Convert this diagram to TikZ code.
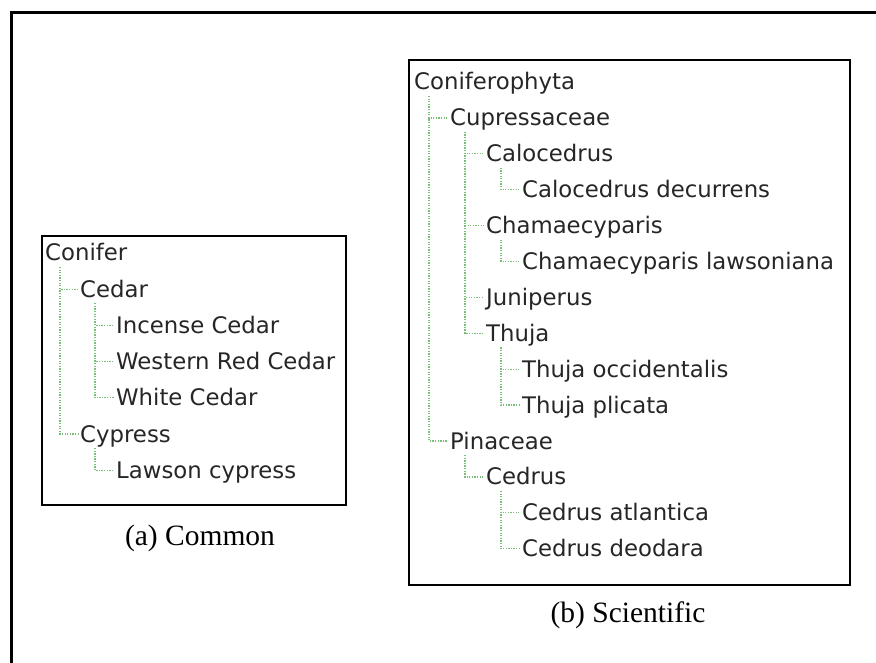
\documentclass[tikz,border=0pt]{standalone}
\usepackage{fontspec}
\setmainfont{Liberation Serif}
\newfontfamily\treefont{DejaVu Sans}
\definecolor{dotgreen}{RGB}{120,190,120}
\begin{document}
\begin{tikzpicture}[x=1pt,y=-1pt,
  item/.style={anchor=west,inner sep=0pt,text height=16pt,text depth=0pt,font=\treefont\fontsize{22.8}{26}\selectfont,text=black!85},
  frame/.style={draw=black,line width=2.2pt},
  tree/.style={draw=dotgreen,line width=1.3pt,dash pattern=on 1.3pt off 1.3pt},
  caption/.style={font=\fontsize{29.5}{34}\selectfont}]
\useasboundingbox (0,0) rectangle (876,663);
\draw[frame,line width=3pt] (11,663) -- (11,13) -- (876,13);
% common names
\draw[frame] (42,236) rectangle (346,505);
\node[item] (conifer) at (45,253) {Conifer};
\node[item] (cedar) at (80,289.2) {Cedar};
\node[item] (incense) at (116,325.4) {Incense Cedar};
\node[item] (western) at (116,361.6) {Western Red Cedar};
\node[item] (white) at (116,397.8) {White Cedar};
\node[item] (cypress) at (80,434) {Cypress};
\node[item] (lawson) at (116,470.2) {Lawson cypress};
\foreach \a/\b in {conifer/cedar,conifer/cypress,cedar/incense,cedar/western,cedar/white,cypress/lawson}
  \draw[tree] ([xshift=15pt,yshift=-14pt]\a.west) |- ([xshift=-2pt]\b.west);
\node[caption] (capa) at (200,538) {(a) Common};
% scientific names
\draw[frame] (409,60) rectangle (850,585);
\node[item] (phyta) at (414,82) {Coniferophyta};
\node[item] (cupress) at (450,117.9) {Cupressaceae};
\node[item] (caloc) at (486,153.8) {Calocedrus};
\node[item] (calocdec) at (522,189.7) {Calocedrus decurrens};
\node[item] (chamae) at (486,225.6) {Chamaecyparis};
\node[item] (chamlaw) at (522,261.5) {Chamaecyparis lawsoniana};
\node[item] (junip) at (486,297.4) {Juniperus};
\node[item] (thuja) at (486,333.3) {Thuja};
\node[item] (thujaocc) at (522,369.2) {Thuja occidentalis};
\node[item] (thujapli) at (522,405.1) {Thuja plicata};
\node[item] (pinac) at (450,441) {Pinaceae};
\node[item] (cedrus) at (486,476.9) {Cedrus};
\node[item] (cedatl) at (522,512.8) {Cedrus atlantica};
\node[item] (ceddeo) at (522,548.7) {Cedrus deodara};
\foreach \a/\b in {phyta/cupress,phyta/pinac,cupress/caloc,cupress/chamae,cupress/junip,cupress/thuja,
    caloc/calocdec,chamae/chamlaw,thuja/thujaocc,thuja/thujapli,pinac/cedrus,cedrus/cedatl,cedrus/ceddeo}
  \draw[tree] ([xshift=15pt,yshift=-14pt]\a.west) |- ([xshift=-2pt]\b.west);
\node[caption] (capb) at (628,615) {(b) Scientific};
\end{tikzpicture}
\end{document}
